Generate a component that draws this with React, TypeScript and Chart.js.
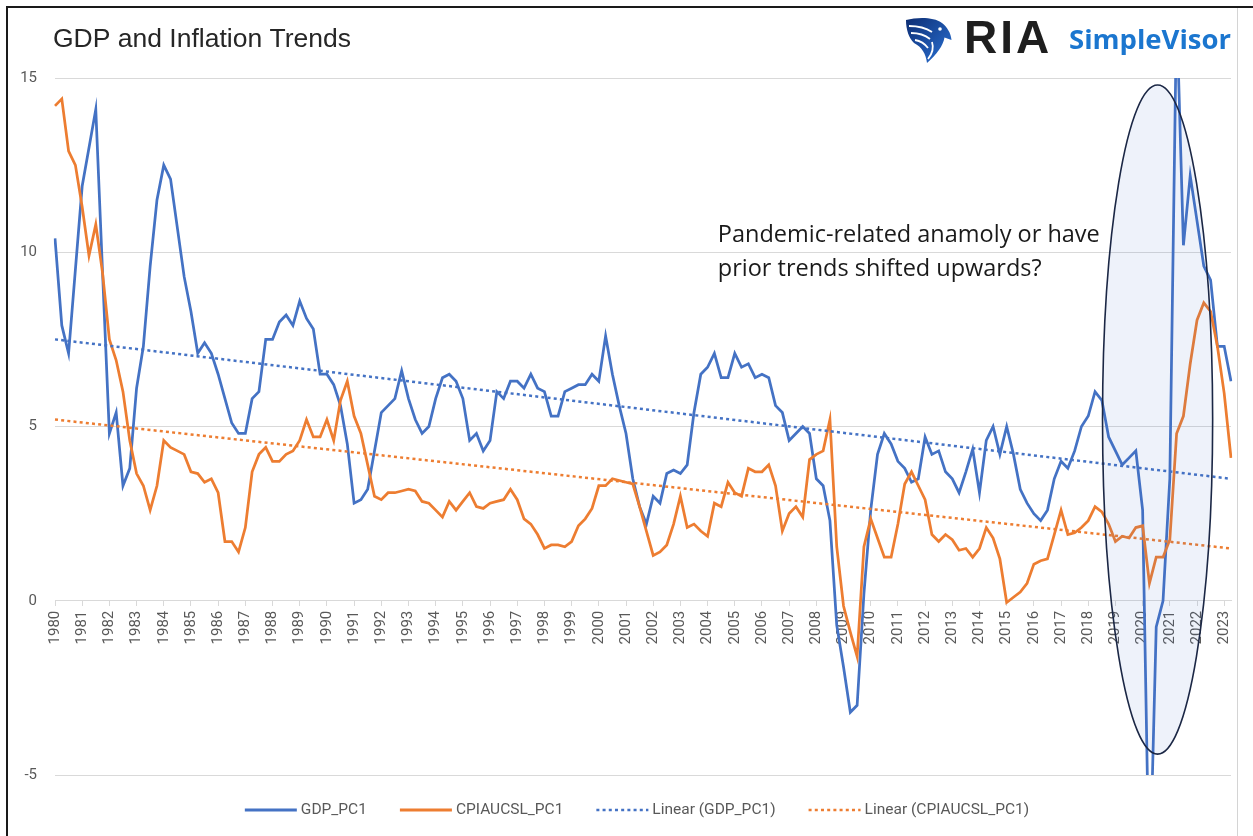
import React, { useEffect, useRef } from "react";
import { Chart, registerables } from "chart.js";

Chart.register(...registerables);

// ---------- data ----------
const YEARS = [
  1980, 1981, 1982, 1983, 1984, 1985, 1986, 1987, 1988, 1989,
  1990, 1991, 1992, 1993, 1994, 1995, 1996, 1997, 1998, 1999,
  2000, 2001, 2002, 2003, 2004, 2005, 2006, 2007, 2008, 2009,
  2010, 2011, 2012, 2013, 2014, 2015, 2016, 2017, 2018, 2019,
  2020, 2021, 2022, 2023,
];
const QUARTER_NAMES = ["Q1", "Q2", "Q3", "Q4"];

const GDP_PC1 = [
  10.4, 7.9, 7.1, 9.5,
  11.9, 13.0, 14.1, 9.4,
  4.8, 5.4, 3.3, 3.8,
  6.1, 7.3, 9.6, 11.5,
  12.5, 12.1, 10.7, 9.3,
  8.3, 7.1, 7.4, 7.1,
  6.5, 5.8, 5.1, 4.8,
  4.8, 5.8, 6.0, 7.5,
  7.5, 8.0, 8.2, 7.9,
  8.6, 8.1, 7.8, 6.5,
  6.5, 6.2, 5.6, 4.5,
  2.8, 2.9, 3.2, 4.3,
  5.4, 5.6, 5.8, 6.6,
  5.8, 5.2, 4.8, 5.0,
  5.8, 6.4, 6.5, 6.3,
  5.8, 4.6, 4.8, 4.3,
  4.6, 6.0, 5.8, 6.3,
  6.3, 6.1, 6.5, 6.1,
  6.0, 5.3, 5.3, 6.0,
  6.1, 6.2, 6.2, 6.5,
  6.3, 7.6, 6.5, 5.6,
  4.8, 3.5, 2.7, 2.2,
  3.0, 2.8, 3.65, 3.75,
  3.65, 3.9, 5.4, 6.5,
  6.7, 7.1, 6.4, 6.4,
  7.1, 6.7, 6.8, 6.4,
  6.5, 6.4, 5.6, 5.4,
  4.6, 4.8, 5.0, 4.8,
  3.5, 3.3, 2.3, -0.7,
  -1.9, -3.2, -3.0, 0.2,
  2.6, 4.2, 4.8, 4.5,
  4.0, 3.8, 3.4, 3.5,
  4.7, 4.2, 4.3, 3.7,
  3.5, 3.1, 3.7, 4.35,
  3.1, 4.6, 5.0, 4.2,
  5.0, 4.2, 3.2, 2.8,
  2.5, 2.3, 2.6, 3.5,
  4.0, 3.8, 4.3, 5.0,
  5.3, 6.0, 5.75, 4.7,
  4.3, 3.9, 4.1, 4.3,
  2.6, -8.4, -0.75, 0.0,
  3.5, 17.0, 10.2, 12.2,
  10.9, 9.6, 9.2, 7.3,
  7.3, 6.3,
];

const CPIAUCSL_PC1 = [
  14.2, 14.4, 12.9, 12.5,
  11.3, 9.9, 10.8, 9.4,
  7.5, 6.9, 6.0, 4.6,
  3.65, 3.3, 2.6, 3.3,
  4.6, 4.4, 4.3, 4.2,
  3.7, 3.65, 3.4, 3.5,
  3.1, 1.7, 1.7, 1.4,
  2.1, 3.7, 4.2, 4.4,
  4.0, 4.0, 4.2, 4.3,
  4.6, 5.2, 4.7, 4.7,
  5.2, 4.6, 5.75, 6.3,
  5.3, 4.8, 3.9, 3.0,
  2.9, 3.1, 3.1, 3.15,
  3.2, 3.15, 2.85, 2.8,
  2.6, 2.4, 2.85, 2.6,
  2.85, 3.1, 2.7, 2.65,
  2.8, 2.85, 2.9, 3.2,
  2.9, 2.35, 2.2, 1.9,
  1.5, 1.6, 1.6, 1.55,
  1.7, 2.15, 2.35, 2.65,
  3.3, 3.3, 3.5, 3.45,
  3.4, 3.35, 2.7, 2.0,
  1.3, 1.4, 1.6, 2.2,
  3.0, 2.1, 2.2, 2.0,
  1.85, 2.8, 2.7, 3.4,
  3.1, 3.0, 3.8, 3.7,
  3.7, 3.9, 3.3, 2.0,
  2.5, 2.7, 2.4, 4.05,
  4.2, 4.3, 5.2, 1.55,
  -0.15, -0.9, -1.6, 1.55,
  2.35, 1.8, 1.25, 1.25,
  2.2, 3.35, 3.7, 3.3,
  2.9, 1.9, 1.7, 1.9,
  1.75, 1.45, 1.5, 1.25,
  1.5, 2.1, 1.8, 1.2,
  -0.05, 0.1, 0.25, 0.5,
  1.05, 1.15, 1.2, 1.9,
  2.6, 1.9, 1.95, 2.1,
  2.3, 2.7, 2.55, 2.2,
  1.7, 1.85, 1.8, 2.1,
  2.15, 0.5, 1.25, 1.25,
  1.75, 4.8, 5.3, 6.8,
  8.05, 8.55, 8.3, 7.3,
  5.95, 4.1,
];

// linear trend lines: values at first and last quarter
const GDP_TREND_ENDS = [7.5, 3.5];
const CPI_TREND_ENDS = [5.2, 1.5];

const Y_MIN = -5;
const Y_MAX = 15;
const Y_STEP = 5;

const CATEGORIES: string[] = YEARS.flatMap((y) =>
  QUARTER_NAMES.map((q) => `${y} ${q}`)
).slice(0, GDP_PC1.length);

// annotation (in data coordinates: category index / value)
const ELLIPSE_X = [154.1, 170.3];
const ELLIPSE_Y = [14.8, -4.4];
const NOTE_X = 97.5;
const NOTE_LINES = ["Pandemic-related anamoly or have", "prior trends shifted upwards?"];
const NOTE_Y = [10.5, 9.5];

const TITLE = "GDP and Inflation Trends";

// ---------- styles ----------
const BLUE = "#4472C4";
const ORANGE = "#ED7D31";
const GRID = "#d9d9d9";
const TICK_TEXT = "#595959";
const AXIS_FONT = "'Liberation Sans Narrow', 'Arial Narrow', Roboto, sans-serif";
const TREND_DASH = [3, 3.2];

const LEGEND_ITEMS = [
  { label: "GDP_PC1", color: BLUE, dash: [] as number[], width: 3 },
  { label: "CPIAUCSL_PC1", color: ORANGE, dash: [] as number[], width: 3 },
  { label: "Linear (GDP_PC1)", color: BLUE, dash: TREND_DASH, width: 2.5 },
  { label: "Linear (CPIAUCSL_PC1)", color: ORANGE, dash: TREND_DASH, width: 2.5 },
];

const EAGLE_PATH =
  "M2 4 C14 1 30 1 38 7 C43 11 47 17 47.5 24 L40.5 21.5 C39 30 33 38 23 47 C22 38 18 31 10 27 C5 22 2 14 2 4 Z";
const EAGLE_CUTS = [
  "M5 10 C14 10 22 12 28 16",
  "M7 17 C15 17 21 19 26 23",
  "M11 24 C17 25 21 28 24 32",
  "M28 26 C30 32 28 38 24 43",
];

const overlayPlugin = {
  id: "overlay",
  beforeDraw(chart: any) {
    const { ctx, width, height } = chart;
    ctx.save();
    ctx.fillStyle = "#ffffff";
    ctx.fillRect(0, 0, width, height);
    ctx.fillStyle = "#1a1a1a";
    ctx.fillRect(6, 6, width - 6, 2);
    ctx.fillRect(6, 6, 2, height - 6);
    ctx.fillStyle = "#d4d4d4";
    ctx.fillRect(1237, 8, 1, height - 8);
    ctx.restore();
  },
  afterDatasetsDraw(chart: any) {
    const { ctx } = chart;
    const xs = chart.scales.x;
    const ys = chart.scales.y;
    const x1 = xs.getPixelForValue(ELLIPSE_X[0]);
    const x2 = xs.getPixelForValue(ELLIPSE_X[1]);
    const y1 = ys.getPixelForValue(ELLIPSE_Y[0]);
    const y2 = ys.getPixelForValue(ELLIPSE_Y[1]);
    ctx.save();
    ctx.beginPath();
    ctx.ellipse((x1 + x2) / 2, (y1 + y2) / 2, Math.abs(x2 - x1) / 2, Math.abs(y2 - y1) / 2, 0, 0, Math.PI * 2);
    ctx.fillStyle = "rgba(68,114,196,0.09)";
    ctx.fill();
    ctx.lineWidth = 1.6;
    ctx.strokeStyle = "#1b2745";
    ctx.stroke();
    ctx.restore();
  },
  afterDraw(chart: any) {
    const { ctx } = chart;
    const xs = chart.scales.x;
    const ys = chart.scales.y;
    ctx.save();
    // title
    ctx.fillStyle = "#262626";
    ctx.font = "26.5px 'Liberation Sans', Arial, sans-serif";
    ctx.textAlign = "left";
    ctx.textBaseline = "alphabetic";
    ctx.fillText(TITLE, 53, 47);

    // note
    ctx.fillStyle = "#1a1a1a";
    ctx.font = "23.5px 'Open Sans', sans-serif";
    ctx.textBaseline = "middle";
    NOTE_LINES.forEach((line, i) => {
      ctx.fillText(line, xs.getPixelForValue(NOTE_X), ys.getPixelForValue(NOTE_Y[i]));
    });

    // legend
    ctx.font = `15.5px ${AXIS_FONT}`;
    const sample = 52;
    const textGap = 4;
    const itemGap = 33;
    const widths = LEGEND_ITEMS.map((it) => sample + textGap + ctx.measureText(it.label).width);
    const total = widths.reduce((a, b) => a + b, 0) + itemGap * (LEGEND_ITEMS.length - 1);
    let lx = 637 - total / 2;
    const ly = 810;
    LEGEND_ITEMS.forEach((it, i) => {
      ctx.beginPath();
      ctx.setLineDash(it.dash);
      ctx.lineWidth = it.width;
      ctx.strokeStyle = it.color;
      ctx.moveTo(lx, ly);
      ctx.lineTo(lx + sample, ly);
      ctx.stroke();
      ctx.setLineDash([]);
      ctx.fillStyle = TICK_TEXT;
      ctx.textBaseline = "middle";
      ctx.fillText(it.label, lx + sample + textGap, ly);
      lx += widths[i] + itemGap;
    });

    // logo
    ctx.translate(904, 16);
    const grad = ctx.createLinearGradient(0, 0, 48, 48);
    grad.addColorStop(0, "#0c2a6e");
    grad.addColorStop(1, "#2b74d8");
    ctx.fillStyle = grad;
    ctx.fill(new Path2D(EAGLE_PATH));
    ctx.strokeStyle = "#ffffff";
    ctx.lineWidth = 1.8;
    EAGLE_CUTS.forEach((p) => ctx.stroke(new Path2D(p)));
    ctx.fillStyle = "#ffffff";
    ctx.beginPath();
    ctx.arc(36, 13, 1.8, 0, Math.PI * 2);
    ctx.fill();
    ctx.setTransform(1, 0, 0, 1, 0, 0);

    ctx.fillStyle = "#1e1e1e";
    ctx.font = "bold 46px 'Liberation Sans', Arial, sans-serif";
    (ctx as any).letterSpacing = "3px";
    ctx.textBaseline = "alphabetic";
    ctx.fillText("RIA", 964, 53);
    ctx.fillStyle = "#1b76cf";
    ctx.font = "bold 27.5px 'Open Sans', sans-serif";
    (ctx as any).letterSpacing = "0px";
    ctx.fillText("SimpleVisor", 1069, 49);
    ctx.restore();
  },
};

export default function App() {
  const canvasRef = useRef<HTMLCanvasElement | null>(null);

  useEffect(() => {
    if (!canvasRef.current) return;
    const last = CATEGORIES[CATEGORIES.length - 1];
    const chart = new Chart(canvasRef.current, {
      type: "line",
      data: {
        labels: CATEGORIES,
        datasets: [
          {
            label: "GDP_PC1",
            data: GDP_PC1,
            borderColor: BLUE,
            borderWidth: 2.75,
            pointRadius: 0,
            tension: 0,
            order: 4,
          },
          {
            label: "CPIAUCSL_PC1",
            data: CPIAUCSL_PC1,
            borderColor: ORANGE,
            borderWidth: 2.75,
            pointRadius: 0,
            tension: 0,
            order: 3,
          },
          {
            label: "Linear (GDP_PC1)",
            data: [
              { x: CATEGORIES[0], y: GDP_TREND_ENDS[0] },
              { x: last, y: GDP_TREND_ENDS[1] },
            ] as any,
            borderColor: BLUE,
            borderWidth: 2.5,
            borderDash: TREND_DASH,
            pointRadius: 0,
            order: 2,
          },
          {
            label: "Linear (CPIAUCSL_PC1)",
            data: [
              { x: CATEGORIES[0], y: CPI_TREND_ENDS[0] },
              { x: last, y: CPI_TREND_ENDS[1] },
            ] as any,
            borderColor: ORANGE,
            borderWidth: 2.5,
            borderDash: TREND_DASH,
            pointRadius: 0,
            order: 1,
          },
        ],
      },
      options: {
        responsive: false,
        maintainAspectRatio: false,
        animation: false,
        events: [],
        layout: { padding: { top: 78, right: 22, bottom: 61, left: 0 } },
        plugins: {
          legend: { display: false },
          tooltip: { enabled: false },
          title: { display: false },
        },
        scales: {
          x: {
            type: "category",
            position: { y: 0 } as any,
            offset: false,
            grid: {
              drawOnChartArea: false,
              drawTicks: true,
              tickLength: 5,
              color: GRID,
            },
            border: { display: true, color: GRID, width: 1 },
            ticks: {
              autoSkip: false,
              minRotation: 90,
              maxRotation: 90,
              padding: 5,
              color: TICK_TEXT,
              font: { family: AXIS_FONT, size: 15 },
              callback: function (this: any, value: any, index: number) {
                if (index % 4 !== 0) return null;
                return String(this.getLabelForValue(value)).slice(0, 4);
              },
            },
          },
          y: {
            min: Y_MIN,
            max: Y_MAX,
            ticks: {
              stepSize: Y_STEP,
              padding: 18,
              color: TICK_TEXT,
              font: { family: AXIS_FONT, size: 15 },
            },
            grid: { color: GRID, drawTicks: false, lineWidth: 1 },
            border: { display: false },
            afterFit: (scale: any) => {
              scale.width = 55;
            },
          },
        },
      },
      plugins: [overlayPlugin],
    });
    return () => chart.destroy();
  }, []);

  return (
    <div style={{ position: "absolute", left: 0, top: 0, width: 1253, height: 836, overflow: "hidden", background: "#fff" }}>
      <canvas ref={canvasRef} width={1253} height={836} style={{ display: "block" }} />
    </div>
  );
}
